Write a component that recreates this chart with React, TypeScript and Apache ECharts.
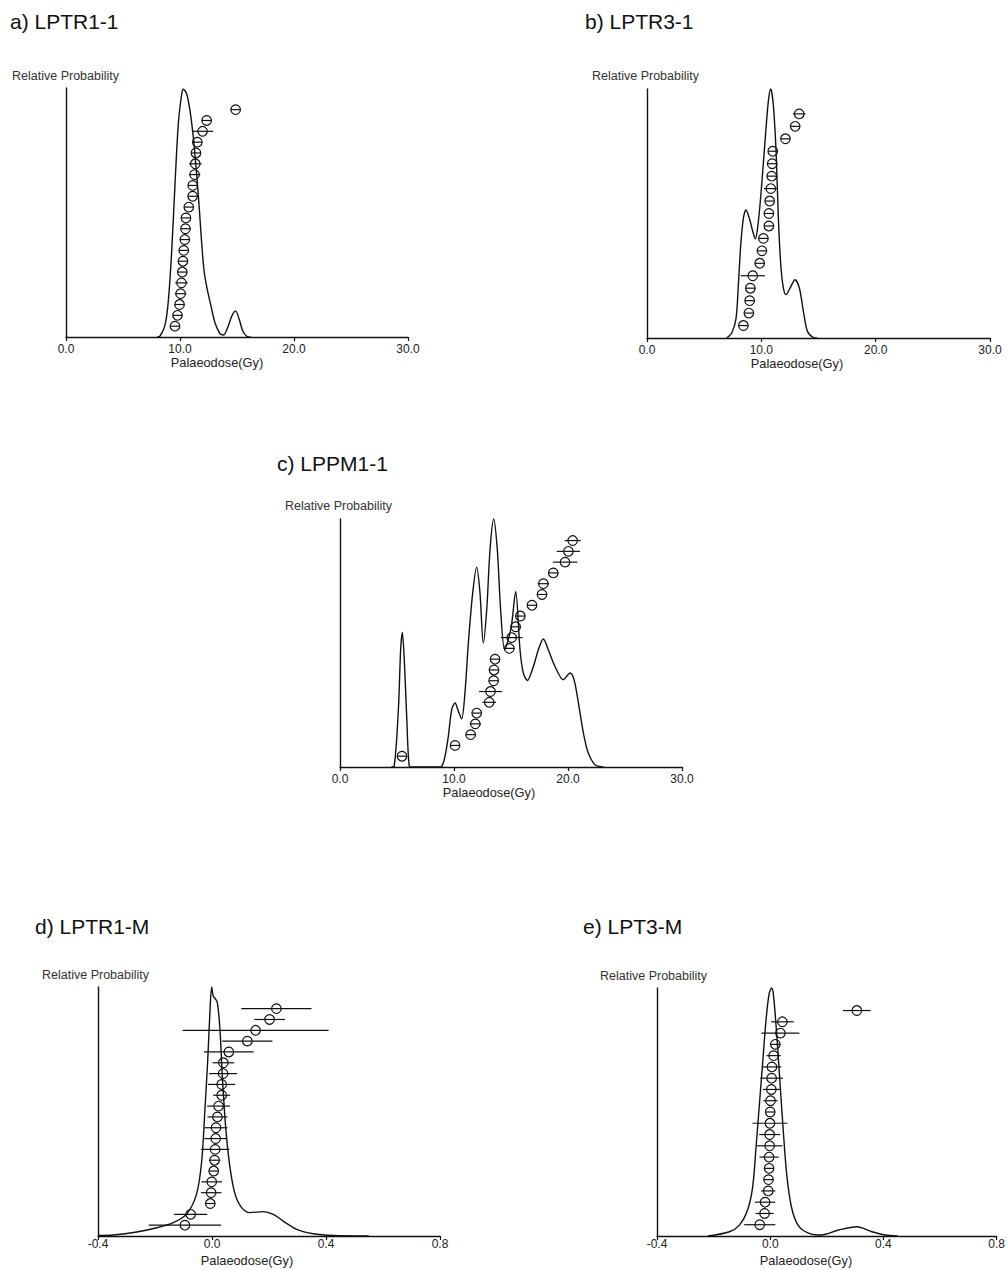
import React, { useEffect, useRef } from "react";
import * as echarts from "echarts";

// ---------- DATA ----------
// Panel a) LPTR1-1
const aDose = [9.56, 9.78, 9.96, 10.05, 10.13, 10.2, 10.26, 10.33, 10.42, 10.48, 10.52, 10.77, 11.11, 11.12, 11.28, 11.34, 11.4, 11.52, 11.98, 12.34, 14.88];
const aErr = [0.3, 0.3, 0.3, 0.5, 0.55, 0.3, 0.3, 0.3, 0.3, 0.3, 0.3, 0.3, 0.3, 0.3, 0.5, 0.55, 0.3, 0.3, 0.92, 0.3, 0.3];
const aCurve = [
  [8.0, 0], [8.25, 0.004], [8.68, 0.047], [8.97, 0.142], [9.27, 0.344], [9.56, 0.612], [9.85, 0.855],
  [10.15, 0.976], [10.29, 0.995], [10.59, 0.976], [10.88, 0.908], [11.17, 0.801], [11.46, 0.653],
  [11.69, 0.518], [11.89, 0.384], [12.1, 0.27], [12.35, 0.2], [12.63, 0.142], [13.07, 0.057],
  [13.5, 0.014], [13.8, 0.008], [14.2, 0.04], [14.55, 0.085], [14.88, 0.105], [15.2, 0.07],
  [15.5, 0.025], [15.85, 0.003], [16.2, 0],
];

// Panel b) LPTR3-1
const bDose = [8.43, 8.91, 8.98, 9.04, 9.25, 9.86, 10.05, 10.18, 10.66, 10.66, 10.73, 10.83, 10.91, 10.95, 11.0, 12.11, 12.96, 13.31];
const bErr = [0.3, 0.3, 0.35, 0.45, 1.06, 0.3, 0.3, 0.3, 0.3, 0.3, 0.3, 0.6, 0.3, 0.3, 0.3, 0.3, 0.3, 0.55];
const bCurve = [
  [6.97, 0], [7.41, 0.02], [7.79, 0.08], [7.99, 0.214], [8.2, 0.374], [8.43, 0.481], [8.66, 0.514],
  [8.95, 0.481], [9.25, 0.428], [9.48, 0.398], [9.74, 0.468], [10.03, 0.615], [10.32, 0.789],
  [10.61, 0.949], [10.82, 1.0], [11.05, 0.936], [11.29, 0.749], [11.49, 0.481], [11.7, 0.294],
  [11.93, 0.2], [12.16, 0.174], [12.51, 0.2], [12.95, 0.234], [13.33, 0.2], [13.68, 0.107],
  [14.03, 0.027], [14.55, 0.002], [14.9, 0],
];

// Panel c) LPPM1-1
const cDose = [5.44, 10.09, 11.46, 11.87, 11.99, 13.09, 13.2, 13.48, 13.51, 13.6, 14.85, 15.06, 15.41, 15.82, 16.84, 17.72, 17.84, 18.71, 19.74, 20.03, 20.41];
const cErr = [0.3, 0.3, 0.3, 0.5, 0.4, 0.6, 1.0, 0.4, 0.4, 0.4, 0.5, 0.95, 0.4, 0.3, 0.3, 0.3, 0.5, 0.3, 1.07, 1.02, 0.7];
const cCurve = [
  [4.5, 0], [4.74, 0.002], [5.12, 0.231], [5.32, 0.473], [5.47, 0.543], [5.64, 0.432], [5.85, 0.203],
  [6.08, 0.002], [6.3, 0],
  [8.7, 0], [8.92, 0.002], [9.21, 0.043], [9.5, 0.123], [9.8, 0.231], [10.09, 0.258], [10.38, 0.225],
  [10.67, 0.194], [10.96, 0.298], [11.26, 0.5], [11.64, 0.702], [11.99, 0.806], [12.28, 0.702],
  [12.57, 0.5], [12.87, 0.634], [13.16, 0.876], [13.48, 1.0], [13.8, 0.876], [14.09, 0.634],
  [14.45, 0.473], [15.0, 0.56], [15.41, 0.708], [15.79, 0.473], [16.08, 0.379], [16.43, 0.349],
  [16.96, 0.405], [17.4, 0.473], [17.84, 0.516], [18.27, 0.473], [18.86, 0.405], [19.59, 0.352],
  [20.18, 0.379], [20.53, 0.352], [20.91, 0.259], [21.35, 0.137], [21.78, 0.056], [22.37, 0.009],
  [23.1, 0],
];

// Panel d) LPTR1-M
const dDose = [-0.095, -0.075, -0.006, -0.003, -0.001, 0.006, 0.009, 0.011, 0.013, 0.014, 0.019, 0.023, 0.034, 0.034, 0.039, 0.04, 0.059, 0.124, 0.153, 0.202, 0.226];
const dErr = [0.127, 0.058, 0.015, 0.036, 0.036, 0.015, 0.02, 0.05, 0.04, 0.04, 0.035, 0.04, 0.03, 0.048, 0.049, 0.038, 0.087, 0.088, 0.256, 0.054, 0.123];
const dCurve = [
  [-0.4, 0.002], [-0.346, 0.004], [-0.264, 0.016], [-0.194, 0.033], [-0.136, 0.054], [-0.089, 0.088],
  [-0.054, 0.169], [-0.036, 0.302], [-0.025, 0.504], [-0.015, 0.706], [-0.007, 0.907], [-0.001, 1.0],
  [0.004, 0.965], [0.018, 0.94], [0.028, 0.827], [0.037, 0.625], [0.049, 0.423], [0.063, 0.276],
  [0.081, 0.168], [0.104, 0.114], [0.133, 0.094], [0.18, 0.098], [0.215, 0.087], [0.25, 0.06],
  [0.297, 0.027], [0.355, 0.009], [0.426, 0.002], [0.55, 0],
];

// Panel e) LPT3-M
const eDose = [-0.037, -0.02, -0.018, -0.007, -0.006, -0.004, -0.004, -0.002, -0.002, -0.001, 0.0, 0.001, 0.004, 0.005, 0.006, 0.012, 0.018, 0.036, 0.043, 0.306];
const eErr = [0.055, 0.032, 0.036, 0.025, 0.015, 0.015, 0.034, 0.045, 0.037, 0.062, 0.015, 0.025, 0.03, 0.04, 0.033, 0.025, 0.015, 0.067, 0.04, 0.049];
const eCurve = [
  [-0.22, 0], [-0.144, 0.017], [-0.109, 0.044], [-0.08, 0.105], [-0.062, 0.198], [-0.05, 0.359],
  [-0.039, 0.52], [-0.027, 0.694], [-0.015, 0.868], [-0.004, 0.976], [0.005, 1.0], [0.011, 0.976],
  [0.022, 0.828], [0.034, 0.627], [0.046, 0.426], [0.058, 0.251], [0.075, 0.117], [0.098, 0.044],
  [0.133, 0.013], [0.18, 0.004], [0.242, 0.024], [0.306, 0.037], [0.359, 0.017], [0.406, 0.004],
  [0.45, 0],
];

const titles = ["a) LPTR1-1", "b) LPTR3-1", "c) LPPM1-1", "d) LPTR1-M", "e) LPT3-M"];
const yName = "Relative Probability";
const xName = "Palaeodose(Gy)";

// ---------- LAYOUT ----------
const FONT = '"Liberation Sans", Arial, Helvetica, sans-serif';

const panels = [
  { dose: aDose, err: aErr, curve: aCurve, xMin: 0, xMax: 30, xInt: 10,
    grid: { left: 66, top: 88, width: 342, height: 249 }, labelMargin: 6,
    title: [10, 21], yLab: [12, 76], xLab: [217, 362] },
  { dose: bDose, err: bErr, curve: bCurve, xMin: 0, xMax: 30, xInt: 10,
    grid: { left: 647, top: 89, width: 343, height: 249 }, labelMargin: 6,
    title: [585, 21], yLab: [592, 76], xLab: [797, 363] },
  { dose: cDose, err: cErr, curve: cCurve, xMin: 0, xMax: 30, xInt: 10,
    grid: { left: 340, top: 519, width: 342, height: 248 }, labelMargin: 6,
    title: [277, 463], yLab: [285, 506], xLab: [489, 792] },
  { dose: dDose, err: dErr, curve: dCurve, xMin: -0.4, xMax: 0.8, xInt: 0.4,
    grid: { left: 98, top: 987, width: 342, height: 249 }, labelMargin: 2,
    title: [35, 926], yLab: [42, 975], xLab: [247, 1260] },
  { dose: eDose, err: eErr, curve: eCurve, xMin: -0.4, xMax: 0.8, xInt: 0.4,
    grid: { left: 657, top: 988, width: 342, height: 248 }, labelMargin: 2,
    title: [583, 926], yLab: [600, 976], xLab: [806, 1260] },
];

const R = 4.8;

function buildOption() {
  const grid: any[] = [];
  const xAxis: any[] = [];
  const yAxis: any[] = [];
  const series: any[] = [];
  const graphic: any[] = [];

  panels.forEach((p, i) => {
    grid.push({ ...p.grid, containLabel: false });
    xAxis.push({
      type: "value", gridIndex: i, min: p.xMin, max: p.xMax, interval: p.xInt,
      axisLine: { show: true, onZero: false, lineStyle: { color: "#111", width: 1.4 } },
      axisTick: { show: true, length: 4, lineStyle: { color: "#111", width: 1.2 } },
      axisLabel: {
        margin: p.labelMargin, color: "#222", fontSize: 12, fontFamily: FONT,
        formatter: (v: number) => (Math.abs(v) < 1e-9 ? 0 : v).toFixed(1),
      },
      splitLine: { show: false },
    });
    yAxis.push({
      type: "value", gridIndex: i, min: 0, max: 1,
      axisLine: { show: true, onZero: false, lineStyle: { color: "#111", width: 1.4 } },
      axisTick: { show: false }, axisLabel: { show: false }, splitLine: { show: false },
    });
    yAxis.push({
      type: "value", gridIndex: i, min: 0, max: p.dose.length + 2, show: false,
      splitLine: { show: false },
    });
    series.push({
      type: "line", xAxisIndex: i, yAxisIndex: 2 * i, data: p.curve,
      symbol: "none", showSymbol: false, smooth: 0.3, clip: false,
      lineStyle: { color: "#111", width: 1.4 }, silent: true,
    });
    series.push({
      type: "custom", xAxisIndex: i, yAxisIndex: 2 * i + 1, clip: false, silent: true,
      data: p.dose.map((d, k) => [d, k + 1, p.err[k]]),
      encode: { x: 0, y: 1 },
      renderItem: (params: any, api: any) => {
        const x = api.value(0);
        const y = api.value(1);
        const e = api.value(2);
        const c = api.coord([x, y]);
        const l = api.coord([x - e, y]);
        const r = api.coord([x + e, y]);
        const x1 = Math.min(l[0], c[0] - R);
        const x2 = Math.max(r[0], c[0] + R);
        return {
          type: "group",
          children: [
            { type: "line", shape: { x1, y1: c[1], x2, y2: c[1] }, style: { stroke: "#111", lineWidth: 1.2 } },
            { type: "circle", shape: { cx: c[0], cy: c[1], r: R }, style: { fill: "none", stroke: "#111", lineWidth: 1.2 } },
          ],
        };
      },
    });
    graphic.push({
      type: "text", x: p.title[0], y: p.title[1],
      style: { text: titles[i], fontSize: 21, fontFamily: FONT, fill: "#111", verticalAlign: "middle", align: "left" },
    });
    graphic.push({
      type: "text", x: p.yLab[0], y: p.yLab[1],
      style: { text: yName, fontSize: 12.5, fontFamily: FONT, fill: "#333", verticalAlign: "middle", align: "left" },
    });
    graphic.push({
      type: "text", x: p.xLab[0], y: p.xLab[1],
      style: { text: xName, fontSize: 12.8, fontFamily: FONT, fill: "#222", verticalAlign: "middle", align: "center" },
    });
  });

  return { animation: false, backgroundColor: "#fff", grid, xAxis, yAxis, series, graphic };
}

export default function App() {
  const ref = useRef<HTMLDivElement>(null);
  useEffect(() => {
    if (!ref.current) return;
    const chart = echarts.init(ref.current, null, { renderer: "svg" });
    chart.setOption(buildOption() as any);
    return () => chart.dispose();
  }, []);
  return (
    <div
      ref={ref}
      style={{ position: "absolute", left: 0, top: 0, width: 1008, height: 1270, background: "#fff" }}
    />
  );
}
